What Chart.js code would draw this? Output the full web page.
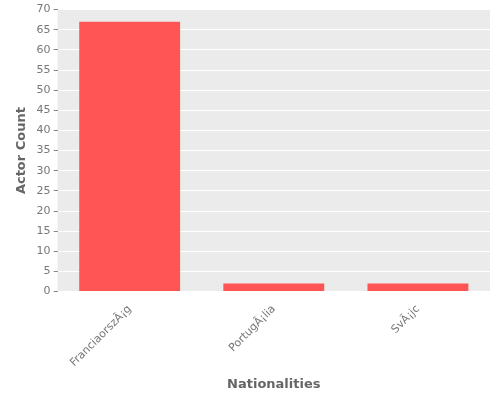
<!DOCTYPE html><html><head><script src="https://cdn.jsdelivr.net/npm/chart.js"></script>
<style>body{margin:0}#w{width:500px;height:400px}</style></head><body><div id="w"><canvas id="c"></canvas></div>
<script>
const categories=["Franciaország","Portugália","Svájc"];
const counts=[67,2,2];
const bg={id:'bg',beforeDraw(ch){const a=ch.chartArea,x=ch.ctx;x.save();x.fillStyle='#ebebeb';x.fillRect(a.left,a.top,a.right-a.left,a.bottom-a.top);x.restore();}};
new Chart(document.getElementById('c'),{type:'bar',data:{labels:categories,datasets:[{data:counts,backgroundColor:'#ff5555',barPercentage:0.7,categoryPercentage:1}]},
options:{responsive:true,maintainAspectRatio:false,animation:false,layout:{padding:{top:6,right:10,left:10,bottom:4}},
plugins:{legend:{display:false},tooltip:{enabled:false}},
font:{family:'DejaVu Sans'},
scales:{x:{grid:{display:false,drawTicks:true},border:{display:false},ticks:{color:'#777',font:{family:'DejaVu Sans',size:11},maxRotation:45,minRotation:45},
title:{display:true,text:'Nationalities',color:'#666',font:{family:'DejaVu Sans',size:13,weight:'bold'}}},
y:{min:0,max:70,grid:{color:'#ffffff',lineWidth:1,tickColor:'#888',tickLength:4},border:{display:false},ticks:{stepSize:5,color:'#777',font:{family:'DejaVu Sans',size:11}},
title:{display:true,text:'Actor Count',color:'#666',font:{family:'DejaVu Sans',size:13,weight:'bold'}}}}},plugins:[bg]});
</script></body></html>
